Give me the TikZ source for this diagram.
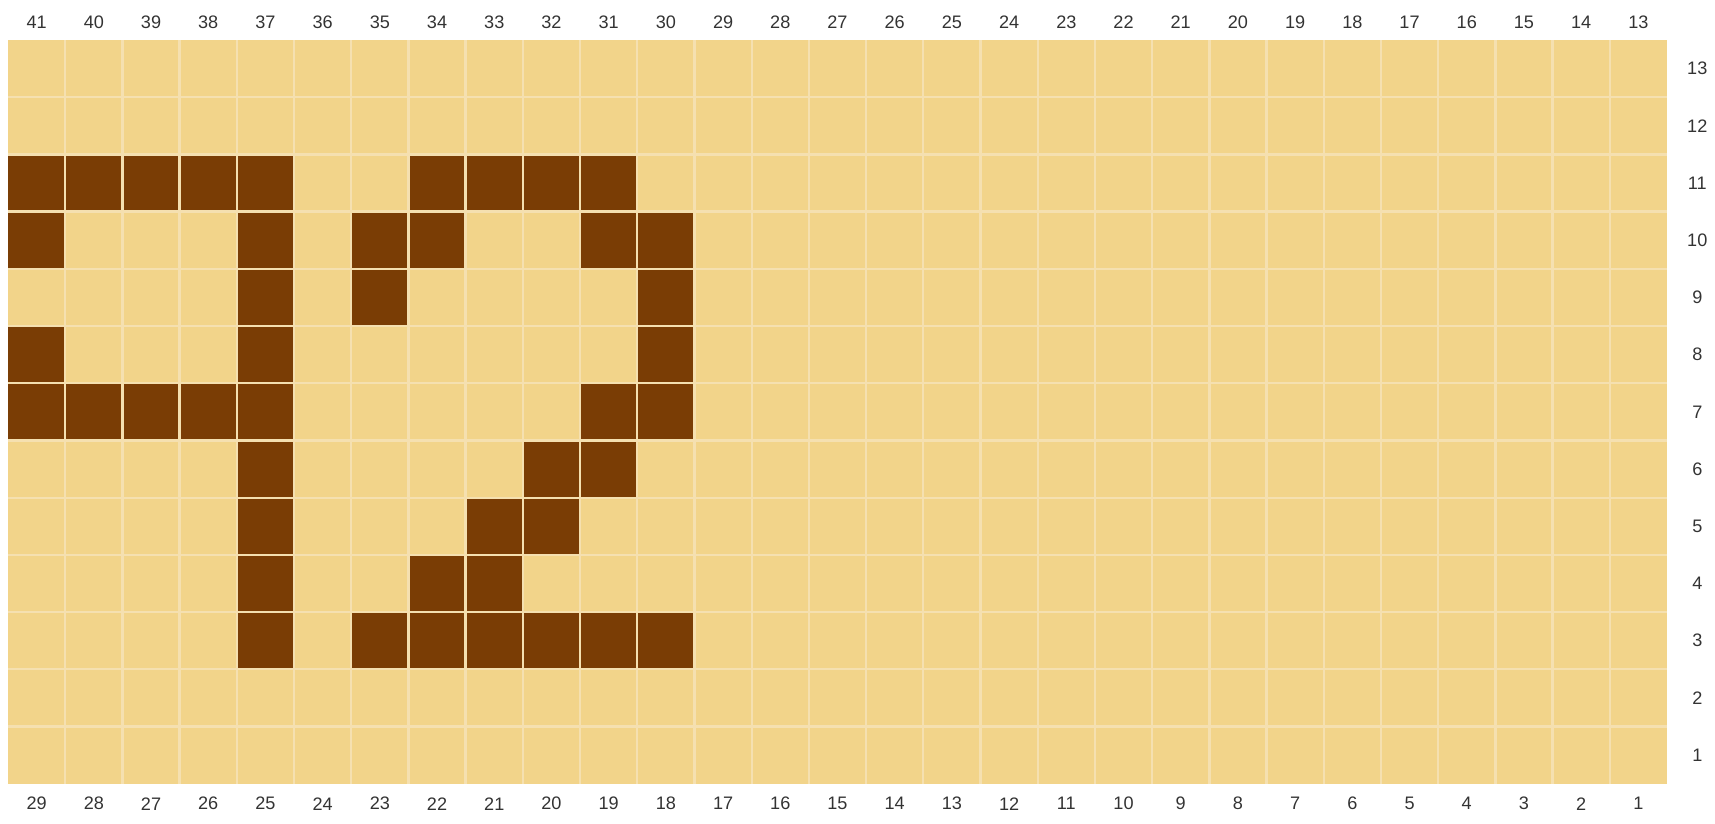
\documentclass[tikz,border=0pt]{standalone}
\usepackage{fontspec}
\setmainfont{Liberation Sans}
\usepackage{xcolor}
\definecolor{cellcream}{HTML}{F2D48A}
\definecolor{cellbrown}{HTML}{7A3D05}
\definecolor{gridcream}{HTML}{F5E0B0}
\definecolor{labelgrey}{HTML}{333333}

\begin{document}
\begin{tikzpicture}[
    x=0.6cm, y=0.6cm,
    font=\fontsize{5.4}{6}\selectfont,
    celloff/.style={fill=cellcream},
    cellon/.style={fill=cellbrown},
    gridline/.style={draw=gridcream, line width=0.7pt},
    colnum/.style={text=labelgrey, inner sep=0pt, anchor=center},
    rownum/.style={colnum}
  ]
    \useasboundingbox (-0.14,-0.70) rectangle (29.84,13.70);

    % board
    \fill[celloff] (0,0) rectangle (29,13);

    % dark stitches: column label / row
    \foreach \c/\r in {41/11,40/11,39/11,38/11,37/11,34/11,33/11,32/11,31/11,
                       41/10,37/10,35/10,34/10,31/10,30/10,
                       37/9,35/9,30/9,
                       41/8,37/8,30/8,
                       41/7,40/7,39/7,38/7,37/7,31/7,30/7,
                       37/6,32/6,31/6,
                       37/5,33/5,32/5,
                       37/4,34/4,33/4,
                       37/3,35/3,34/3,33/3,32/3,31/3,30/3}
      \fill[cellon] ({41-\c},{\r-1}) rectangle +(1,1);

    % grid
    \foreach \i in {1,...,28}
      \draw[gridline] (\i,0) -- (\i,13);
    \foreach \j in {1,...,12}
      \draw[gridline] (0,\j) -- (29,\j);

    % numbers
    \foreach \i in {1,...,29} {
      \pgfmathtruncatemacro{\top}{42-\i}
      \pgfmathtruncatemacro{\bot}{30-\i}
      \node[colnum] (top-\i) at (\i-0.5,13.31) {\top};
      \node[colnum] (bot-\i) at (\i-0.5,-0.35) {\bot};
    }
    \foreach \r in {1,...,13}
      \node[rownum] (row-\r) at (29.53,\r-0.5) {\r};
  \end{tikzpicture}
\end{document}
